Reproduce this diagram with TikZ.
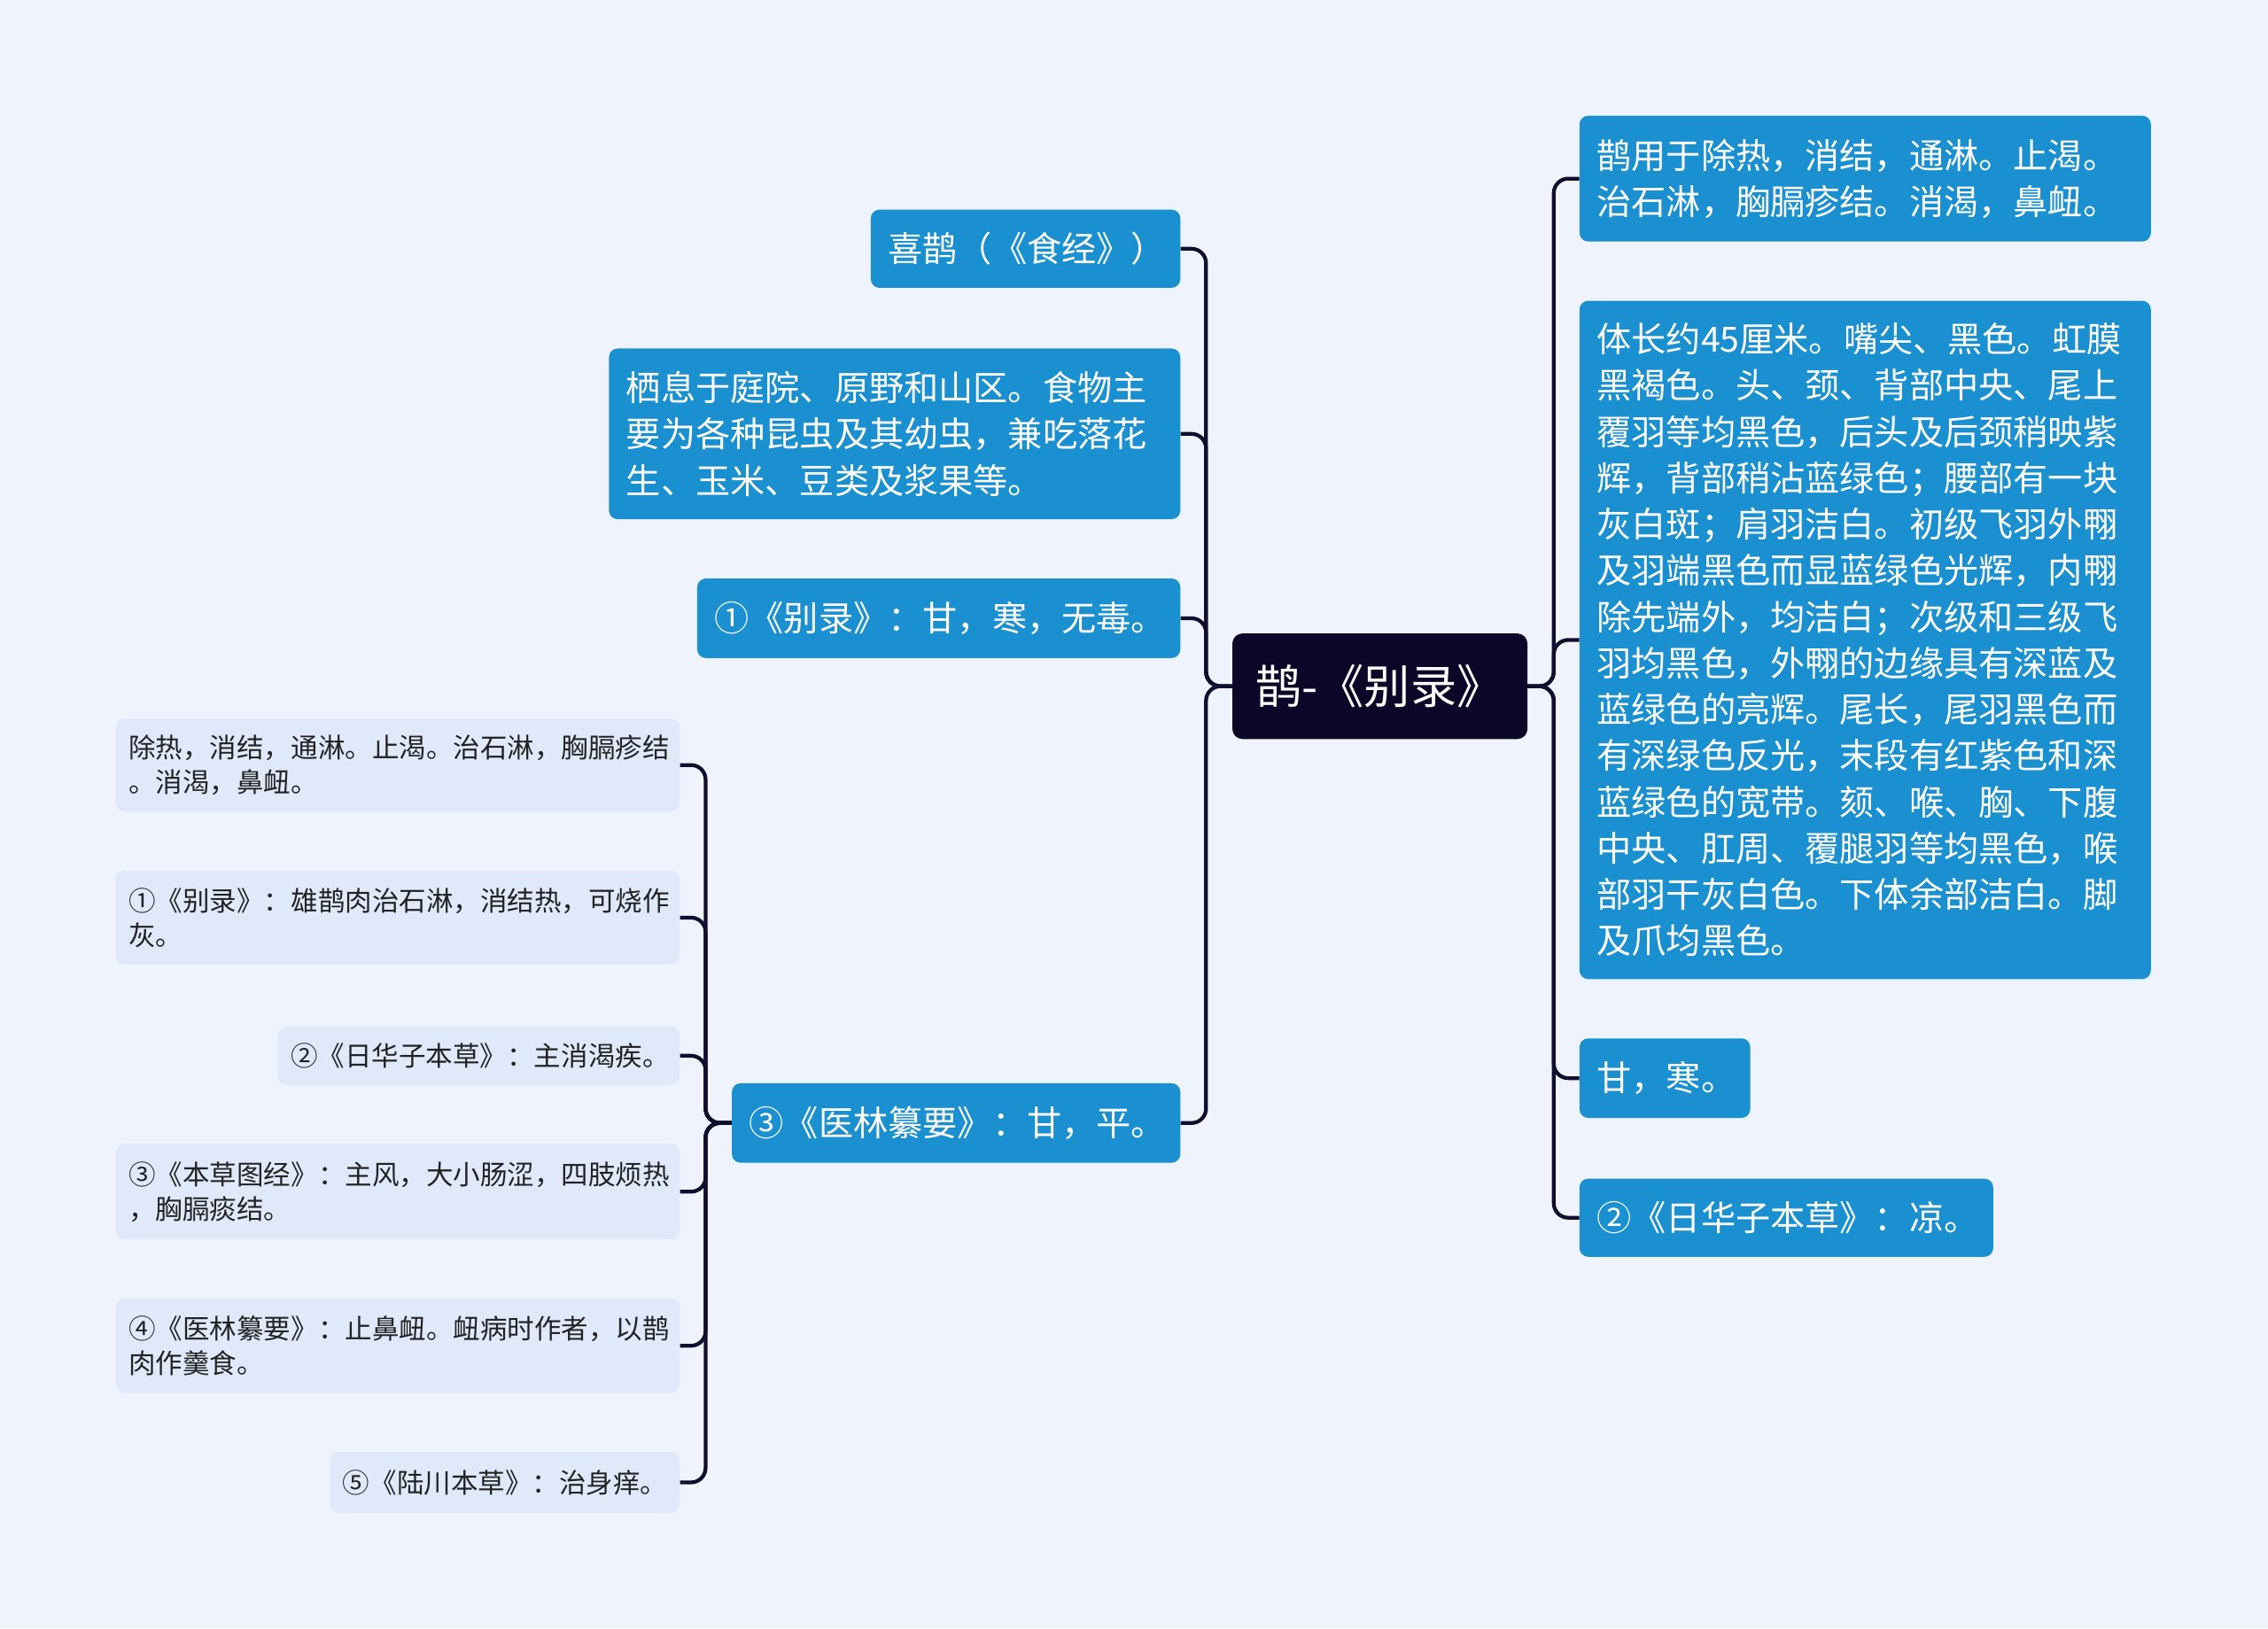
\documentclass[tikz,border=0pt]{standalone}
\usepackage{fontspec}
\setmainfont{Noto Sans CJK SC}
\definecolor{cbg}{HTML}{EEF3FD}
\definecolor{cblue}{HTML}{1A90D1}
\definecolor{clight}{HTML}{DFE9FA}
\definecolor{croot}{HTML}{0C0628}
\definecolor{cline}{HTML}{100D2E}
\definecolor{ctext}{HTML}{222222}
\begin{document}
\begin{tikzpicture}[x=1pt,y=-1pt,
  bluebox/.style={fill=cblue,text=white,rounded corners=6pt,inner xsep=12pt,inner ysep=0pt,align=left,font=\fontsize{24}{32}\selectfont},
  lightbox/.style={fill=clight,text=ctext,rounded corners=6pt,inner xsep=9pt,inner ysep=0pt,align=left,font=\fontsize{18.7}{24}\selectfont},
  rootbox/.style={fill=croot,text=white,rounded corners=7pt,inner xsep=16pt,inner ysep=0pt,align=left,font=\fontsize{32}{38}\selectfont},
  conn/.style={draw=cline,line width=2.6pt,rounded corners=10pt}]
\fill[cbg] (0,0) rectangle (1568,1126);

% root
\node[rootbox,minimum width=204pt,minimum height=73pt,text width=172pt] (root) at (954,474.5) {鹊-《别录》};

% left level 1
\node[bluebox,minimum width=214pt,minimum height=54pt,text width=190pt] (n1) at (709,172) {喜鹊（《食经》）};
\node[bluebox,minimum width=395pt,minimum height=118pt,text width=371pt] (n2) at (618.5,300) {栖息于庭院、原野和山区。食物主\\要为各种昆虫及其幼虫，兼吃落花\\生、玉米、豆类及浆果等。};
\node[bluebox,minimum width=334pt,minimum height=55pt,text width=310pt] (n3) at (649,427.5) {①《别录》：甘，寒，无毒。};
\node[bluebox,minimum width=310pt,minimum height=55pt,text width=286pt] (n4) at (661,776.5) {③《医林纂要》：甘，平。};

% left level 2
\node[lightbox,minimum width=390pt,minimum height=64pt,text width=372pt] (l1) at (275,529) {除热，消结，通淋。止渴。治石淋，胸膈疹结\\。消渴，鼻衄。};
\node[lightbox,minimum width=390pt,minimum height=65pt,text width=372pt] (l2) at (275,634.5) {①《别录》：雄鹊肉治石淋，消结热，可烧作\\灰。};
\node[lightbox,minimum width=278pt,minimum height=40pt,text width=260pt] (l3) at (331,730) {②《日华子本草》：主消渴疾。};
\node[lightbox,minimum width=390pt,minimum height=66pt,text width=372pt] (l4) at (275,824) {③《本草图经》：主风，大小肠涩，四肢烦热\\，胸膈痰结。};
\node[lightbox,minimum width=390pt,minimum height=65pt,text width=372pt] (l5) at (275,930.5) {④《医林纂要》：止鼻衄。衄病时作者，以鹊\\肉作羹食。};
\node[lightbox,minimum width=242pt,minimum height=42pt,text width=224pt] (l6) at (349,1025) {⑤《陆川本草》：治身痒。};

% right
\node[bluebox,minimum width=395pt,minimum height=87pt,text width=371pt] (r1) at (1289.5,123.5) {鹊用于除热，消结，通淋。止渴。\\治石淋，胸膈疹结。消渴，鼻衄。};
\node[bluebox,minimum width=395pt,minimum height=469pt,text width=371pt] (r2) at (1289.5,442.5) {体长约45厘米。嘴尖、黑色。虹膜\\黑褐色。头、颈、背部中央、尾上\\覆羽等均黑色，后头及后颈稍映紫\\辉，背部稍沾蓝绿色；腰部有一块\\灰白斑；肩羽洁白。初级飞羽外翈\\及羽端黑色而显蓝绿色光辉，内翈\\除先端外，均洁白；次级和三级飞\\羽均黑色，外翈的边缘具有深蓝及\\蓝绿色的亮辉。尾长，尾羽黑色而\\有深绿色反光，末段有红紫色和深\\蓝绿色的宽带。颏、喉、胸、下腹\\中央、肛周、覆腿羽等均黑色，喉\\部羽干灰白色。下体余部洁白。脚\\及爪均黑色。};
\node[bluebox,minimum width=118pt,minimum height=55pt,text width=94pt] (r3) at (1151,745.5) {甘，寒。};
\node[bluebox,minimum width=286pt,minimum height=54pt,text width=262pt] (r4) at (1235,842) {②《日华子本草》：凉。};

% connectors
\foreach \c in {n1,n2,n3,n4}
  \draw[conn] (root.west) -- ++(-18,0) |- (\c.east);
\foreach \c in {r1,r2,r3,r4}
  \draw[conn] (root.east) -- ++(18,0) |- (\c.west);
\foreach \c in {l1,l2,l3,l4,l5,l6}
  \draw[conn] (n4.west) -- ++(-18,0) |- (\c.east);
\end{tikzpicture}
\end{document}
